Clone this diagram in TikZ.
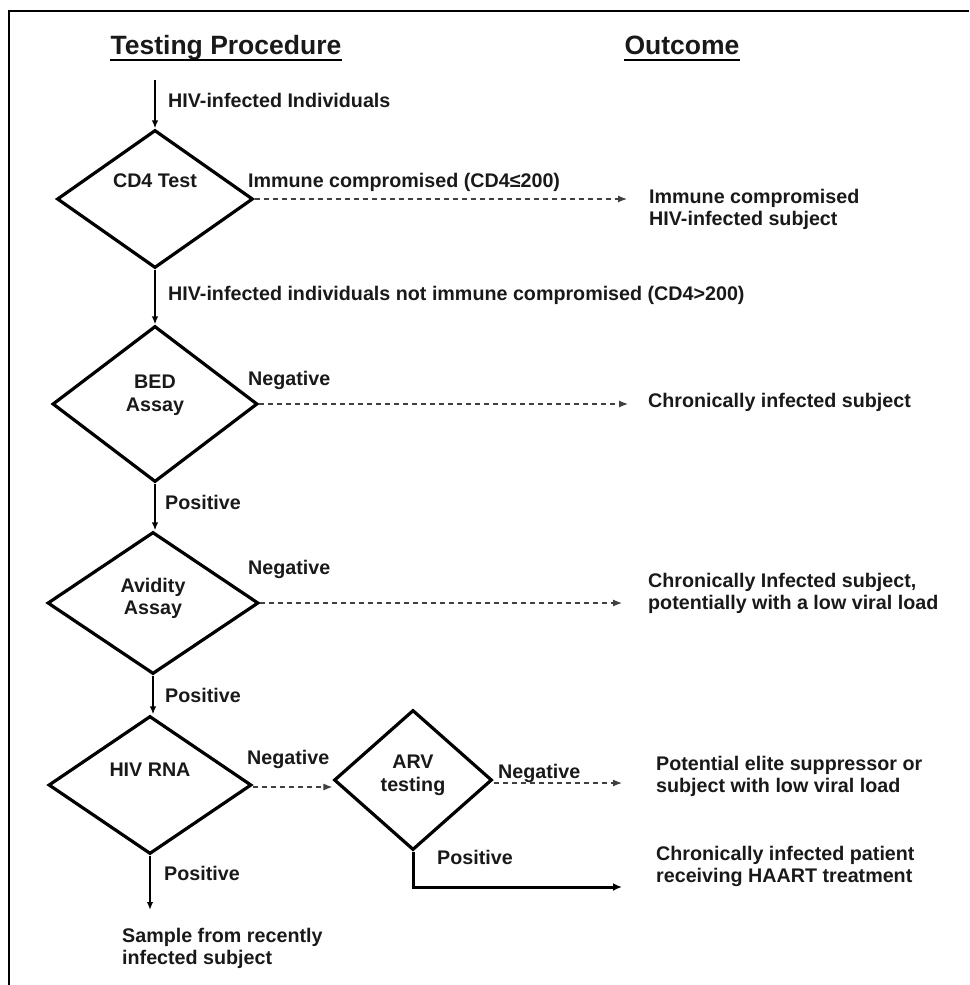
\documentclass[tikz,border=0pt]{standalone}
\usepackage{fontspec}
\setmainfont{Liberation Sans}
\usetikzlibrary{arrows.meta,shapes.geometric}
\begin{document}
\begin{tikzpicture}[x=1pt,y=-1pt,
  txt/.style={font=\fontsize{19.7}{22.5}\selectfont\bfseries, inner sep=0pt, text=black!90, anchor=north west, align=left},
  intxt/.style={font=\fontsize{19.7}{22.5}\selectfont\bfseries, inner sep=0pt, text=black!90, anchor=north, align=center},
  heading/.style={font=\fontsize{26.5}{30}\selectfont\bfseries, inner sep=0pt, text=black!90, anchor=base},
  testbox/.style={diamond, draw, line width=3.2pt, inner sep=0pt},
  flow/.style={line width=2.2pt, -{Latex[length=8pt,width=6.5pt]}},
  heavyflow/.style={line width=3pt, -{Latex[length=9pt,width=8pt]}},
  maybe/.style={line width=1.2pt, draw=black!75, dash pattern=on 5pt off 4pt, -{Latex[length=9pt,width=7pt]}}]
\useasboundingbox (0,0) rectangle (969,985);

% frame
\draw[line width=2.5pt] (969,11) -- (9,11) -- (9,985);

% column headings
\node[heading] (hproc) at (226,54) {Testing Procedure};
\node[heading] (hout) at (682,54) {Outcome};
\draw[line width=2pt] ([yshift=-6pt]hproc.base west) -- ([yshift=-6pt]hproc.base east);
\draw[line width=2pt] ([yshift=-6pt]hout.base west) -- ([yshift=-6pt]hout.base east);

% tests
\node[testbox, minimum width=196pt, minimum height=138pt] (cd4) at (155,199) {};
\node[testbox, minimum width=205pt, minimum height=156pt] (bed) at (155,404) {};
\node[testbox, minimum width=211pt, minimum height=142pt] (avid) at (153,603) {};
\node[testbox, minimum width=203pt, minimum height=138pt] (rna) at (150,785) {};
\node[testbox, minimum width=158pt, minimum height=140pt] (arv) at (413,780) {};

\node[intxt] (tcd4) at (155,174) {CD4 Test};
\node[intxt] (tbed) at (155,375) {BED\\Assay};
\node[intxt] (tavid) at (153,578) {Avidity\\Assay};
\node[intxt] (trna) at (150,763) {HIV RNA};
\node[intxt] (tarv) at (413,755) {ARV\\testing};

% outcomes
\node[txt] (o1) at (649,189) {Immune compromised\\HIV-infected subject};
\node[txt] (o2) at (648,393) {Chronically infected subject};
\node[txt] (o3) at (648,573) {Chronically Infected subject,\\potentially with a low viral load};
\node[txt] (o4) at (656,756) {Potential elite suppressor or\\subject with low viral load};
\node[txt] (o5) at (656,846) {Chronically infected patient\\receiving HAART treatment};
\node[txt] (o6) at (122,928) {Sample from recently\\infected subject};

% branch labels
\node[txt] (lin) at (168,93) {HIV-infected Individuals};
\node[txt] (limm) at (248,173) {Immune compromised (CD4≤200)};
\node[txt] (lnot) at (168,286) {HIV-infected individuals not immune compromised (CD4>200)};
\node[txt] (lneg1) at (248,371) {Negative};
\node[txt] (lpos1) at (165,495) {Positive};
\node[txt] (lneg2) at (248,560) {Negative};
\node[txt] (lpos2) at (165,688) {Positive};
\node[txt] (lneg3) at (247,750) {Negative};
\node[txt] (lneg4) at (498,764) {Negative};
\node[txt] (lpos3) at (437,850) {Positive};
\node[txt] (lpos4) at (164,866) {Positive};

% connectors
\coordinate (entry) at (155,80);
\coordinate (haart) at (622,887);
\draw[flow] (entry) -- (cd4.north);
\draw[flow] (cd4.south) -- (cd4.south |- bed.north);
\draw[flow] (bed.south) -- (bed.south |- avid.north);
\draw[flow] (avid.south) -- (avid.south |- rna.north);
\draw[flow] (rna.south) -- (rna.south |- o6.north) [shorten >=18pt];

\draw[maybe, shorten >=22pt] (cd4.east) -- (cd4.east -| o1.west);
\draw[maybe, shorten >=20pt] (bed.east) -- (bed.east -| o2.west);
\draw[maybe, shorten >=26pt] (avid.east) -- (avid.east -| o3.west);
\draw[maybe] ([yshift=-2pt]rna.east) -- ([yshift=-2pt]rna.east -| arv.west);
\draw[maybe, shorten >=34pt] ([yshift=-3pt]arv.east) -- ([yshift=-3pt]arv.east -| o4.west);
\draw[heavyflow] (arv.south) |- (haart);
\end{tikzpicture}
\end{document}
